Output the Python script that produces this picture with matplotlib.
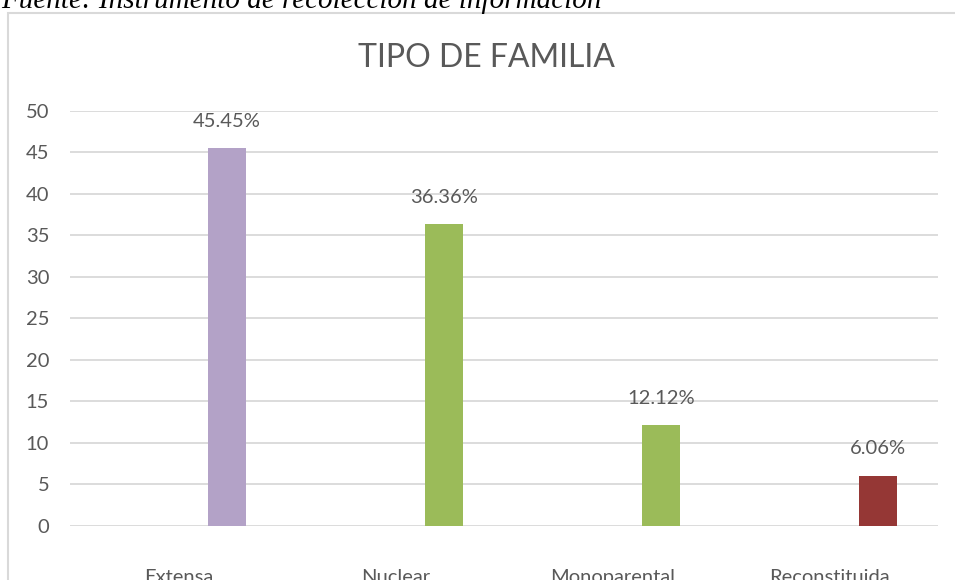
import numpy as np
import matplotlib.pyplot as plt
from matplotlib.patches import Rectangle

categorias = ['Extensa', 'Nuclear', 'Monoparental', 'Reconstituida']
valores = [45.45, 36.36, 12.12, 6.06]
etiquetas = ['45.45%', '36.36%', '12.12%', '6.06%']
colores = ['#B3A2C7', '#9BBB59', '#9BBB59', '#953735']

gris = '#595959'
fuente = ['Lato', 'DejaVu Sans']

fig = plt.figure(figsize=(9.55, 5.8), dpi=100)
ax = fig.add_axes([70/955, 1 - 526/580, 868/955, (526 - 110.7)/580])

x = np.arange(len(categorias))
offset = 0.2235
bars = ax.bar(x + offset, valores, width=0.175, color=colores, zorder=3)

for bar, lab in zip(bars, etiquetas):
    ax.text(bar.get_x() + bar.get_width()/2, bar.get_height() + 2.2, lab,
            ha='center', va='bottom', fontsize=14.5, color=gris, family=fuente)

ax.set_xlim(-0.5, 3.5)
ax.set_ylim(0, 50)
ax.set_yticks(range(0, 51, 5))
ax.set_xticks(x)
ax.set_xticklabels(categorias)
ax.grid(axis='y', color='#D9D9D9', linewidth=1.3, zorder=0)
for s in ax.spines.values():
    s.set_visible(False)
ax.tick_params(length=0)
ax.tick_params(axis='y', pad=15)
ax.tick_params(axis='x', pad=31)
for t in ax.get_yticklabels() + ax.get_xticklabels():
    t.set_fontsize(14.5)
    t.set_color(gris)
    t.set_family(fuente)

fig.text(486/955, 1 - 58/580, 'TIPO DE FAMILIA', ha='center', va='center',
         fontsize=23, color=gris, family=fuente)

# borde del grafico
fig.patches.append(Rectangle((7.5/955, -0.1), 1.2, 1 - 12.5/580 + 0.1,
                             transform=fig.transFigure, fill=False,
                             edgecolor='#D9D9D9', linewidth=1.5))

fig.text(1/955, 1 - 8/580, 'Fuente: Instrumento de recolección de información',
         ha='left', va='baseline', fontsize=21, style='italic',
         family='Liberation Serif', color='black')

fig.savefig('out.png', dpi=100)
